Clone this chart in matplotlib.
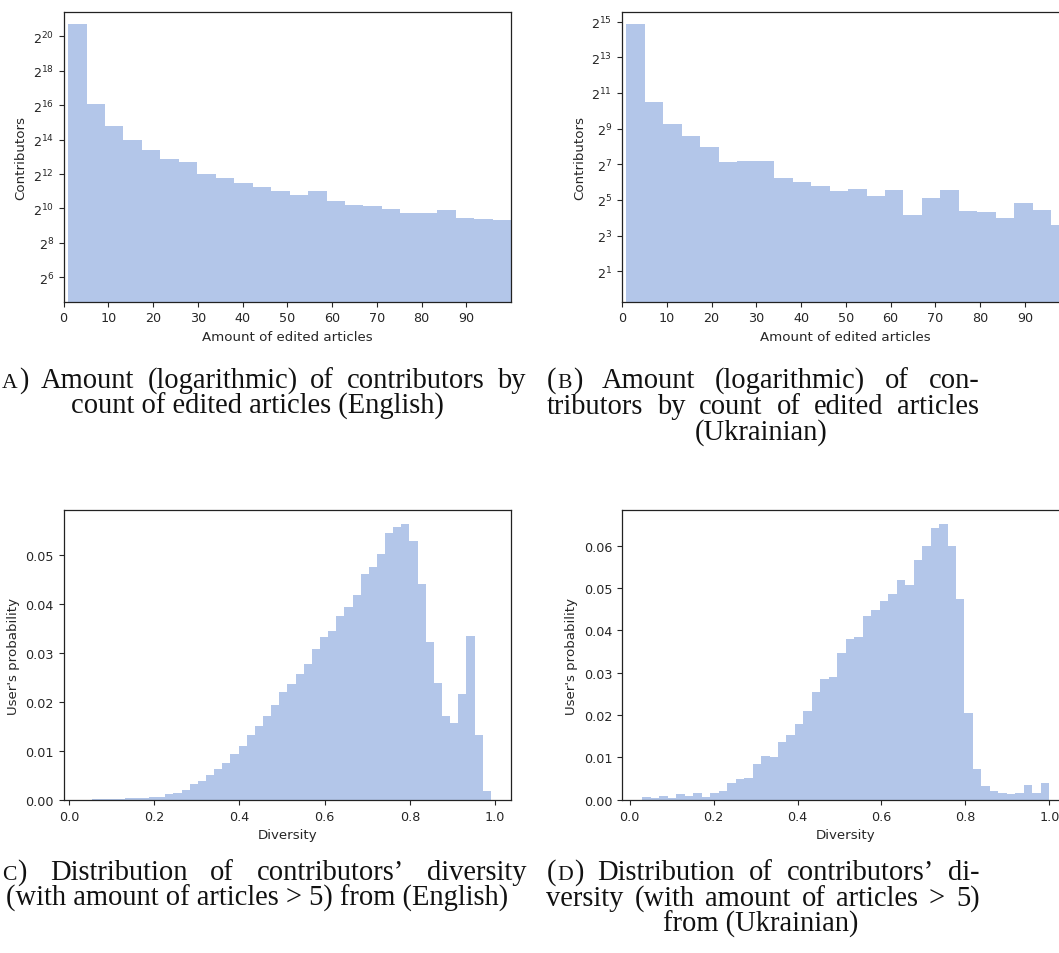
import re
import numpy as np
import matplotlib
matplotlib.use("Agg")
import matplotlib.pyplot as plt
from matplotlib.ticker import FixedLocator, NullLocator, LogFormatterSciNotation

# ---------------- data ----------------
article_bin_range = (1, 100)          # bins of "amount of edited articles"
article_ticks = [0, 10, 20, 30, 40, 50, 60, 70, 80, 90]

en_contributors = [1751000, 67840, 28720, 15940, 10810, 7385, 6655, 4154,
                   3492, 2818, 2402, 2048, 1758, 2048, 1399, 1193,
                   1128, 1017, 867, 867, 962, 699, 671, 635]
en_ytick_exps = [6, 8, 10, 12, 14, 16, 18, 20]

uk_contributors = [30360, 1458, 605, 385, 254, 142, 148, 144,
                   76, 65, 56, 45, 50, 37, 48, 18,
                   35, 48, 21, 20, 16, 28, 22, 12]
uk_ytick_exps = [1, 3, 5, 7, 9, 11, 13, 15]

div_en_range = (0.035, 0.99)
div_en_prob = [0.0, 0.0001, 0.0001, 0.0001, 0.0002, 0.0003, 0.0003, 0.0003,
               0.0005, 0.0006, 0.0011, 0.0014, 0.0020, 0.0032, 0.0039, 0.0051,
               0.0062, 0.0076, 0.0094, 0.0110, 0.0132, 0.0151, 0.0171, 0.0194,
               0.0220, 0.0236, 0.0257, 0.0278, 0.0308, 0.0332, 0.0345, 0.0375,
               0.0394, 0.0419, 0.0461, 0.0476, 0.0501, 0.0545, 0.0558, 0.0563,
               0.0528, 0.0441, 0.0323, 0.0239, 0.0171, 0.0156, 0.0217, 0.0334,
               0.0132, 0.0018]

div_uk_range = (0.03, 1.0)
div_uk_prob = [0.0007, 0.0004, 0.0009, 0.0004, 0.0013, 0.0010, 0.0016, 0.0007,
               0.0016, 0.0020, 0.0040, 0.0050, 0.0051, 0.0085, 0.0104, 0.0101,
               0.0136, 0.0152, 0.0179, 0.0210, 0.0255, 0.0286, 0.0289, 0.0346,
               0.0379, 0.0384, 0.0434, 0.0447, 0.0469, 0.0487, 0.0518, 0.0507,
               0.0567, 0.0600, 0.0641, 0.0651, 0.0600, 0.0475, 0.0204, 0.0073,
               0.0032, 0.0020, 0.0017, 0.0014, 0.0016, 0.0036, 0.0015, 0.0039]

# left-column captions are cropped at the page edge in the reference: "A)" / "C)"
captions = {
    "A": ["A) Amount (logarithmic) of contributors by",
          "count of edited articles (English)"],
    "B": ["(B) Amount (logarithmic) of con-",
          "tributors by count of edited articles",
          "(Ukrainian)"],
    "C": ["C) Distribution of contributors\u2019 diversity",
          "(with amount of articles > 5) from (English)"],
    "D": ["(D) Distribution of contributors\u2019 di-",
          "versity (with amount of articles > 5)",
          "from (Ukrainian)"],
}

# ---------------- style ----------------
W, H = 1059, 954
BAR = "#b3c6e9"
TXT = "#262626"
TICK_FS = 9.2
LABEL_FS = 9.6
CAP_FONT = ["Liberation Serif", "DejaVu Serif"]

plt.rcParams.update({
    "font.family": ["DejaVu Sans"],
    "text.color": TXT,
    "axes.labelcolor": TXT,
    "xtick.color": TXT,
    "ytick.color": TXT,
    "axes.edgecolor": "#222222",
    "axes.linewidth": 0.9,
})

fig = plt.figure(figsize=(W / 100, H / 100), dpi=100)


def add_ax(left, top, right, bottom):
    return fig.add_axes([left / W, 1 - bottom / H, (right - left) / W, (bottom - top) / H])


axA = add_ax(63.6, 13.3, 511.2, 302.7)
axB = add_ax(622.0, 13.3, 1069.6, 302.7)
axC = add_ax(63.6, 511.3, 511.2, 800.8)
axD = add_ax(622.0, 511.3, 1069.6, 800.8)


def log_hist(ax, counts, exps, ylim_exp):
    edges = np.linspace(article_bin_range[0], article_bin_range[1], len(counts) + 1)
    centers = (edges[:-1] + edges[1:]) / 2
    ax.set_yscale("log", base=2)
    ax.hist(centers, bins=edges, weights=counts, color=BAR, linewidth=0)
    ax.set_ylim(2.0 ** ylim_exp[0], 2.0 ** ylim_exp[1])
    ax.yaxis.set_major_locator(FixedLocator([2.0 ** e for e in exps]))
    ax.yaxis.set_major_formatter(LogFormatterSciNotation(base=2))
    ax.yaxis.set_minor_locator(NullLocator())
    ax.set_xlim(0, 100)
    ax.set_xticks(article_ticks)
    ax.set_xlabel("Amount of edited articles", fontsize=LABEL_FS)
    ax.set_ylabel("Contributors", fontsize=LABEL_FS)
    ax.tick_params(labelsize=TICK_FS)


log_hist(axA, en_contributors, en_ytick_exps, (4.586, 21.394))
log_hist(axB, uk_contributors, uk_ytick_exps, (-0.70, 15.52))


def prob_hist(ax, probs, rng):
    edges = np.linspace(rng[0], rng[1], len(probs) + 1)
    centers = (edges[:-1] + edges[1:]) / 2
    ax.hist(centers, bins=edges, weights=probs, color=BAR, linewidth=0)
    ax.set_xlabel("Diversity", fontsize=LABEL_FS)
    ax.set_ylabel("User's probability", fontsize=LABEL_FS)
    ax.tick_params(labelsize=TICK_FS)


prob_hist(axC, div_en_prob, div_en_range)
prob_hist(axD, div_uk_prob, div_uk_range)

# ---------------- captions ----------------
renderer = fig.canvas.get_renderer()


def ink_width(s, size):
    t = fig.text(0, 0, s, fontsize=size, family=CAP_FONT)
    w = t.get_window_extent(renderer=renderer).width
    t.remove()
    return w


# fit caption size to the natural widths of the centred lines
centred_targets = [(captions["A"][1], 381.5), (captions["B"][2], 131.7),
                   (captions["D"][2], 187.0), (captions["C"][1], 506.6)]
ref = 16.0
measured = sum(ink_width(s, ref) for s, _ in centred_targets)
CAP_FS = ref * sum(t for _, t in centred_targets) / measured
SC = 0.76


def tokens_of(line):
    toks = []
    for w in line.split():
        m = re.fullmatch(r"(\(?)([A-D])\)", w)
        if m:
            tok = [("(", 1.0)] if m.group(1) else []
            tok += [(m.group(2), SC), (")", 1.0)]
            toks.append(tok)
        else:
            toks.append([(w, 1.0)])
    return toks


def token_width(tok):
    ws = [ink_width(s, CAP_FS * k) for s, k in tok]
    return sum(ws) + 0.06 * CAP_FS * (len(tok) - 1), ws


def justify(line, x0, x1, y):
    toks = tokens_of(line)
    widths = [token_width(t) for t in toks]
    total = sum(w for w, _ in widths)
    gap = (x1 - x0 - total) / (len(toks) - 1)
    x = x0
    for tok, (tw, ws) in zip(toks, widths):
        xs = x
        for (s, k), w in zip(tok, ws):
            fig.text(xs / W, 1 - y / H, s, fontsize=CAP_FS * k, family=CAP_FONT,
                     ha="left", va="baseline", color="#111111")
            xs += w + 0.06 * CAP_FS
        x += tw + gap


def centre(line, cx, y):
    fig.text(cx / W, 1 - y / H, line, fontsize=CAP_FS, family=CAP_FONT,
             ha="center", va="baseline", color="#111111")


L0, L1 = 2.0, 526.0
R0, R1 = 546.5, 979.5
LC, RC = 257.0, 761.0
TOP_Y = [388, 414, 440]
BOT_Y = [880, 906, 932]

justify(captions["A"][0], L0, L1, TOP_Y[0])
centre(captions["A"][1], LC, TOP_Y[1])

justify(captions["B"][0], R0, R1, TOP_Y[0])
justify(captions["B"][1], R0, R1, TOP_Y[1])
centre(captions["B"][2], RC, TOP_Y[2])

justify(captions["C"][0], L0, L1, BOT_Y[0])
centre(captions["C"][1], LC, BOT_Y[1])

justify(captions["D"][0], R0, R1, BOT_Y[0])
justify(captions["D"][1], R0, R1, BOT_Y[1])
centre(captions["D"][2], RC, BOT_Y[2])

fig.savefig("out.png", dpi=100, facecolor="white")
